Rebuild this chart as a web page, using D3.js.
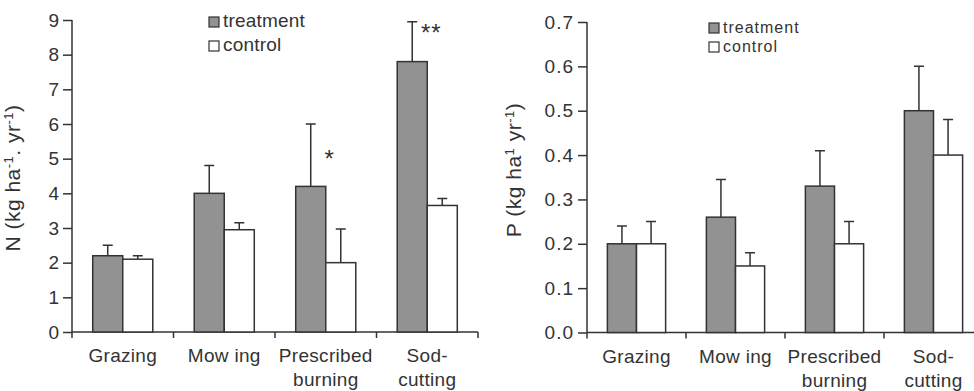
<!DOCTYPE html>
<meta charset="utf-8">
<script src="https://d3js.org/d3.v7.min.js"></script>
<style>
  body { margin: 0; background: #fff; }
  svg text { font-family: "Liberation Sans", Arial, sans-serif; fill: #333; }
</style>
<div id="my_dataviz"></div>
<script>

// categories and series
var categories = ["Grazing", "Mow ing", "Prescribed burning", "Sod- cutting"];
var series = ["treatment", "control"];

// N panel values (mean and top of error bar)
var nTreatment = [2.2, 4.0, 4.2, 7.8];
var nTreatmentUp = [2.5, 4.8, 6.0, 8.95];
var nControl = [2.1, 2.95, 2.0, 3.65];
var nControlUp = [2.2, 3.15, 2.97, 3.85];
var nStars = ["", "", "*", "**"];
var nStarLevel = [0, 0, 4.75, 8.4];   // height (in N units) of the star marks
var nTicks = [0, 1, 2, 3, 4, 5, 6, 7, 8, 9];

// P panel values
var pTreatment = [0.2, 0.26, 0.33, 0.5];
var pTreatmentUp = [0.24, 0.345, 0.41, 0.6];
var pControl = [0.2, 0.15, 0.2, 0.4];
var pControlUp = [0.25, 0.18, 0.25, 0.48];
var pTicks = [0, 0.1, 0.2, 0.3, 0.4, 0.5, 0.6, 0.7];

var colors = { treatment: "#929292", control: "#ffffff" };
var ink = "#333";

var svg = d3.select("#my_dataviz")
  .append("svg")
    .attr("width", 974)
    .attr("height", 391);

function drawPanel(opt) {
  var g = svg.append("g").attr("transform", "translate(" + opt.left + "," + opt.top + ")");

  var x = d3.scaleBand().domain(categories).range([0, opt.width]).padding(0);
  var x1 = d3.scaleBand().domain(series).range([0, x.bandwidth()]).paddingInner(0).paddingOuter(opt.outer);
  var y = d3.scaleLinear().domain([0, opt.max]).range([opt.height, 0]);

  // y axis
  var yAxis = g.append("g")
    .call(d3.axisLeft(y).tickValues(opt.ticks).tickFormat(opt.fmt).tickSize(9).tickPadding(4));
  yAxis.select(".domain").attr("d", "M0," + y(opt.max) + "V" + opt.height);
  yAxis.selectAll("line, path").attr("stroke", ink).attr("stroke-width", 1.5);
  yAxis.selectAll("text").style("font-size", "19px").style("letter-spacing", opt.tickSpacing).attr("fill", ink);

  // x axis: ticks at category boundaries
  var bounds = categories.map(function(c) { return x(c); }).concat([opt.width]);
  var xAxis = g.append("g").attr("transform", "translate(0," + opt.height + ")");
  xAxis.append("line").attr("x1", 0).attr("x2", opt.width)
    .attr("stroke", ink).attr("stroke-width", 1.5);
  xAxis.selectAll(".bt").data(bounds).enter().append("line")
    .attr("x1", function(d) { return d; }).attr("x2", function(d) { return d; })
    .attr("y1", 0).attr("y2", 6)
    .attr("stroke", ink).attr("stroke-width", 1.5);

  // category labels (two lines where needed)
  var lab = xAxis.selectAll(".cl").data(categories).enter().append("text")
    .attr("text-anchor", "middle")
    .style("font-size", "19px")
    .style("letter-spacing", "0.3px")
    .attr("transform", function(d) { return "translate(" + (x(d) + x.bandwidth() / 2) + ",0)"; });
  lab.each(function(d) {
    var parts = d === "Mow ing" ? [d] : d.split(" ");
    var t = d3.select(this);
    parts.forEach(function(p, i) {
      t.append("tspan").attr("x", 0).attr("y", 30 + i * 24).text(p);
    });
  });

  // bars
  var rows = categories.map(function(c, i) {
    return [
      { cat: c, key: "treatment", v: opt.treat[i], up: opt.treatUp[i] },
      { cat: c, key: "control", v: opt.ctrl[i], up: opt.ctrlUp[i] }
    ];
  });
  var groups = g.selectAll(".grp").data(rows).enter().append("g")
    .attr("transform", function(d) { return "translate(" + x(d[0].cat) + ",0)"; });

  // error bars (upper only)
  groups.selectAll(".err").data(function(d) { return d; }).enter().append("path")
    .attr("d", function(d) {
      var cx = x1(d.key) + x1.bandwidth() / 2;
      return "M" + cx + "," + y(d.v) + "V" + y(d.up) + "M" + (cx - 5) + "," + y(d.up) + "H" + (cx + 5);
    })
    .attr("stroke", ink).attr("stroke-width", 1.5).attr("fill", "none");

  groups.selectAll("rect").data(function(d) { return d; }).enter().append("rect")
    .attr("x", function(d) { return x1(d.key); })
    .attr("y", function(d) { return y(d.v); })
    .attr("width", x1.bandwidth())
    .attr("height", function(d) { return opt.height - y(d.v); })
    .attr("fill", function(d) { return colors[d.key]; })
    .attr("stroke", ink).attr("stroke-width", 1.5);

  // significance stars
  if (opt.stars) {
    groups.append("text")
      .attr("text-anchor", "middle")
      .attr("x", function(d) { return x1("treatment") + x1.bandwidth() + 4; })
      .attr("y", function(d, i) { return y(opt.starLevel[i]); })
      .style("font-size", "24px")
      .style("letter-spacing", "1px")
      .text(function(d, i) { return opt.stars[i]; });
  }

  // legend
  var leg = g.append("g").attr("transform", "translate(" + opt.legX + "," + opt.legY + ")");
  series.forEach(function(s, i) {
    leg.append("rect").attr("x", 0).attr("y", i * opt.legGap - 10)
      .attr("width", 10).attr("height", 10)
      .attr("fill", colors[s]).attr("stroke", ink).attr("stroke-width", 1.2);
    leg.append("text").attr("x", 14).attr("y", i * opt.legGap)
      .style("font-size", opt.legFont + "px")
      .style("letter-spacing", opt.legSpacing)
      .text(s);
  });

  // y axis title
  var yt = g.append("text")
    .attr("text-anchor", "middle")
    .attr("transform", "translate(" + opt.titleX + "," + opt.titleY + ") rotate(-90)")
    .style("font-size", opt.titleFont + "px")
    .style("letter-spacing", "0.5px");
  opt.title.forEach(function(p) {
    var ts = yt.append("tspan").text(p[0]);
    if (p[1]) ts.attr("baseline-shift", "super").style("font-size", "13px");
  });
}

drawPanel({
  left: 72, top: 20, width: 406, height: 312, max: 9,
  ticks: nTicks, fmt: d3.format("d"), outer: 0.69, tickSpacing: "0px",
  treat: nTreatment, treatUp: nTreatmentUp, ctrl: nControl, ctrlUp: nControlUp,
  stars: nStars, starLevel: nStarLevel,
  legX: 137, legY: 7, legGap: 24, legFont: 19, legSpacing: "0.2px",
  titleX: -52, titleY: 158, titleFont: 21,
  title: [["N (kg ha"], ["-1", true], [". yr"], ["-1", true], [")"]]
});

drawPanel({
  left: 587, top: 22, width: 396, height: 310.5, max: 0.7,
  ticks: pTicks, fmt: d3.format(".1f"), outer: 0.7, tickSpacing: "1px",
  treat: pTreatment, treatUp: pTreatmentUp, ctrl: pControl, ctrlUp: pControlUp,
  stars: null,
  legX: 122, legY: 11, legGap: 19, legFont: 16, legSpacing: "1px",
  titleX: -66, titleY: 148, titleFont: 21,
  title: [["P (kg ha"], ["1", true], [" yr"], ["-1", true], [")"]]
});

</script>
